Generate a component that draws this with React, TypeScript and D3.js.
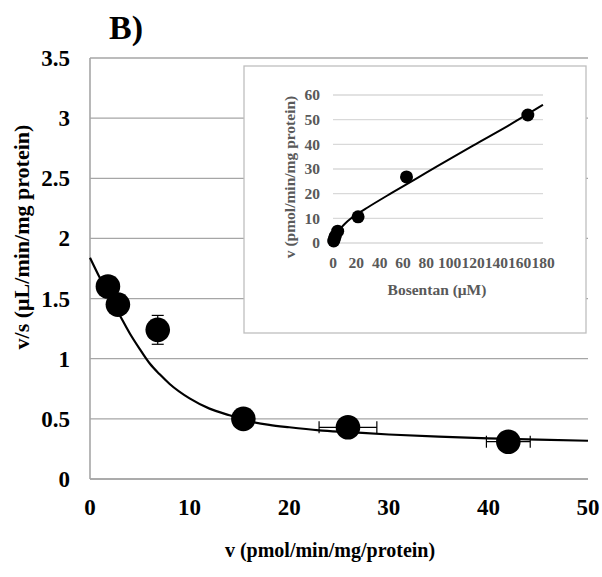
import React from "react";
import * as d3 from "d3";

// ---- Main plot data (Eadie-Hofstee) ----
const mainV = [1.8, 2.8, 6.8, 15.4, 25.9, 42.0];
const mainVS = [1.6, 1.45, 1.24, 0.5, 0.43, 0.31];
const mainVErr = [0, 0, 0, 0, 2.9, 2.2];
const mainVSErr = [0, 0, 0.12, 0, 0, 0];

const fitV = [0, 1, 2, 3, 4, 5, 6, 7, 8, 10, 12, 14, 16, 18, 20, 23, 26, 30, 35, 40, 45, 50];
const fitVS = [1.84, 1.67, 1.51, 1.36, 1.21, 1.08, 0.96, 0.87, 0.79, 0.67, 0.585, 0.53, 0.48, 0.45, 0.43, 0.405, 0.39, 0.37, 0.352, 0.338, 0.327, 0.318];

const mainXTicks = [0, 10, 20, 30, 40, 50];
const mainYTicks = [0, 0.5, 1, 1.5, 2, 2.5, 3, 3.5];

// ---- Inset data (v vs Bosentan) ----
const insetS = [0.6, 1.2, 2.0, 4.0, 21.5, 63, 167];
const insetV = [0.8, 1.8, 2.8, 4.8, 10.6, 26.8, 51.9];
const insetFitS = [0, 1, 2, 4, 7, 10, 15, 20, 30, 50, 80, 120, 150, 180];
const insetFitV = [0, 1.5, 2.7, 4.4, 6.2, 7.7, 9.8, 11.5, 14.5, 20.2, 28.5, 39.5, 47.5, 56];
const insetXTicks = [0, 20, 40, 60, 80, 100, 120, 140, 160, 180];
const insetYTicks = [0, 10, 20, 30, 40, 50, 60];

const FONT = "'Liberation Serif', 'Times New Roman', serif";

export default function App() {
  const x = d3.scaleLinear().domain([0, 50]).range([90, 588]);
  const y = d3.scaleLinear().domain([0, 3.5]).range([479, 58]);

  const ix = d3.scaleLinear().domain([0, 180]).range([333, 543]);
  const iy = d3.scaleLinear().domain([0, 60]).range([243, 95]);

  const fitLine = d3
    .line<number>()
    .x((_, i) => x(fitV[i]))
    .y((_, i) => y(fitVS[i]))
    .curve(d3.curveMonotoneX);

  const insetLine = d3
    .line<number>()
    .x((_, i) => ix(insetFitS[i]))
    .y((_, i) => iy(insetFitV[i]))
    .curve(d3.curveMonotoneX);

  const gridColor = "#a6a6a6";
  const insetGrid = "#d9d9d9";
  const insetText = "#595959";

  return (
    <svg
      width={602}
      height={577}
      style={{ position: "absolute", left: 0, top: 0, background: "#fff" }}
      fontFamily={FONT}
    >
      {/* Title */}
      <text x={109} y={39} fontSize={34} fontWeight="bold" fill="#000">
        B)
      </text>

      {/* Main gridlines */}
      {mainYTicks.map((t) => (
        <line key={"g" + t} x1={x(0)} x2={x(50)} y1={y(t)} y2={y(t)} stroke={gridColor} strokeWidth={1.3} />
      ))}
      {/* Main axes */}
      <line x1={x(0)} x2={x(0)} y1={y(0)} y2={y(3.5)} stroke={gridColor} strokeWidth={1.6} />
      <line x1={x(0)} x2={x(50)} y1={y(0)} y2={y(0)} stroke={gridColor} strokeWidth={1.6} />

      {/* Main y tick labels */}
      {mainYTicks.map((t) => (
        <text key={"yt" + t} x={70} y={y(t)} dy="0.35em" textAnchor="end" fontSize={23} fontWeight="bold">
          {String(t)}
        </text>
      ))}
      {/* Main x tick labels */}
      {mainXTicks.map((t) => (
        <text key={"xt" + t} x={x(t)} y={515} textAnchor="middle" fontSize={23} fontWeight="bold">
          {String(t)}
        </text>
      ))}

      {/* Axis titles */}
      <text x={330} y={557} textAnchor="middle" fontSize={20} fontWeight="bold">
        v (pmol/min/mg/protein)
      </text>
      <text
        transform={`translate(29, 237) rotate(-90)`}
        textAnchor="middle"
        fontSize={22}
        fontWeight="bold"
      >
        v/s (μL/min/mg protein)
      </text>

      {/* Inset box */}
      <rect x={244} y={66} width={342} height={267} fill="#fff" stroke="#bfbfbf" strokeWidth={1.3} />
      {insetYTicks.map((t) => (
        <line key={"ig" + t} x1={ix(0)} x2={ix(180)} y1={iy(t)} y2={iy(t)} stroke={insetGrid} strokeWidth={1.3} />
      ))}
      {insetYTicks.map((t) => (
        <text key={"iyt" + t} x={320} y={iy(t)} dy="0.35em" textAnchor="end" fontSize={15.5} fontWeight="bold" fill={insetText}>
          {String(t)}
        </text>
      ))}
      {insetXTicks.map((t) => (
        <text key={"ixt" + t} x={ix(t)} y={268} textAnchor="middle" fontSize={15.5} fontWeight="bold" fill={insetText}>
          {String(t)}
        </text>
      ))}
      <text x={437} y={295} textAnchor="middle" fontSize={15.5} fontWeight="bold" fill={insetText}>
        Bosentan (μM)
      </text>
      <text
        transform={`translate(295, 177) rotate(-90)`}
        textAnchor="middle"
        fontSize={15.5}
        fontWeight="bold"
        fill={insetText}
      >
        v (pmol/min/mg protein)
      </text>
      <path d={insetLine(insetFitS) || ""} fill="none" stroke="#000" strokeWidth={2} />
      {insetS.map((s, i) => (
        <circle key={"ip" + i} cx={ix(s)} cy={iy(insetV[i])} r={6.5} fill="#000" />
      ))}

      {/* Main fit curve */}
      <path d={fitLine(fitV) || ""} fill="none" stroke="#000" strokeWidth={2.2} />

      {/* Error bars */}
      {mainV.map((v, i) => (
        <g key={"e" + i} stroke="#000" strokeWidth={1.2}>
          {mainVErr[i] > 0 && (
            <>
              <line x1={x(v - mainVErr[i])} x2={x(v + mainVErr[i])} y1={y(mainVS[i])} y2={y(mainVS[i])} />
              <line x1={x(v - mainVErr[i])} x2={x(v - mainVErr[i])} y1={y(mainVS[i]) - 6} y2={y(mainVS[i]) + 6} />
              <line x1={x(v + mainVErr[i])} x2={x(v + mainVErr[i])} y1={y(mainVS[i]) - 6} y2={y(mainVS[i]) + 6} />
            </>
          )}
          {mainVSErr[i] > 0 && (
            <>
              <line x1={x(v)} x2={x(v)} y1={y(mainVS[i] - mainVSErr[i])} y2={y(mainVS[i] + mainVSErr[i])} />
              <line x1={x(v) - 6} x2={x(v) + 6} y1={y(mainVS[i] - mainVSErr[i])} y2={y(mainVS[i] - mainVSErr[i])} />
              <line x1={x(v) - 6} x2={x(v) + 6} y1={y(mainVS[i] + mainVSErr[i])} y2={y(mainVS[i] + mainVSErr[i])} />
            </>
          )}
        </g>
      ))}

      {/* Main points */}
      {mainV.map((v, i) => (
        <circle key={"p" + i} cx={x(v)} cy={y(mainVS[i])} r={12.3} fill="#000" />
      ))}
    </svg>
  );
}
